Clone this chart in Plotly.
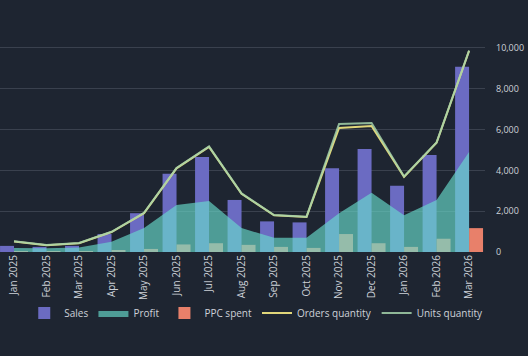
import plotly.graph_objects as go

months = ["Jan 2025", "Feb 2025", "Mar 2025", "Apr 2025", "May 2025", "Jun 2025", "Jul 2025",
          "Aug 2025", "Sep 2025", "Oct 2025", "Nov 2025", "Dec 2025", "Jan 2026", "Feb 2026", "Mar 2026"]
sales = [300, 250, 300, 880, 1900, 3830, 4650, 2550, 1500, 1450, 4100, 5050, 3250, 4750, 9070]
profit = [200, 180, 220, 500, 1170, 2300, 2500, 1170, 700, 700, 1900, 2900, 1800, 2550, 4900]
ppc = [20, 20, 30, 80, 150, 370, 430, 350, 250, 200, 880, 430, 250, 650, 1170]
orders = [520, 330, 430, 980, 1900, 4100, 5150, 2850, 1800, 1720, 6080, 6170, 3680, 5350, 9850]
units = [530, 340, 440, 990, 1920, 4120, 5170, 2870, 1810, 1730, 6270, 6320, 3700, 5370, 9870]
y_ticks = [0, 2000, 4000, 6000, 8000, 10000]

BG = "#1e2531"
TXT = "#cdd1d8"

fig = go.Figure()
fig.add_trace(go.Bar(x=months, y=sales, name="Sales", legendrank=1,
                     marker=dict(color="#6b6bc2", line=dict(width=0))))
fig.add_trace(go.Bar(x=months, y=ppc, name="PPC spent", legendrank=3,
                     marker=dict(color="#e8806a", line=dict(width=0))))
fig.add_trace(go.Scatter(x=months, y=profit, name="Profit", mode="lines", fill="tozeroy",
                         line=dict(color="rgba(105,220,205,0.0)", width=0),
                         fillcolor="rgba(105,220,205,0.65)", legendrank=2))
fig.add_trace(go.Scatter(x=months, y=orders, name="Orders quantity", mode="lines", legendrank=4,
                         line=dict(color="#e0d67a", width=2)))
fig.add_trace(go.Scatter(x=months, y=units, name="Units quantity", mode="lines", legendrank=5,
                         line=dict(color="rgba(165,210,170,0.85)", width=2)))

fig.update_layout(
    width=528, height=356,
    paper_bgcolor=BG, plot_bgcolor=BG,
    margin=dict(l=0, r=43, t=5, b=104),
    barmode="group", bargap=0.14, bargroupgap=0,
    font=dict(family="Open Sans", color=TXT, size=10),
    showlegend=True,
    legend=dict(orientation="h", x=0.05, xanchor="left", y=-0.247, yanchor="middle",
                font=dict(size=10, color=TXT), bgcolor="rgba(0,0,0,0)",
                itemwidth=30, tracegroupgap=0),
    xaxis=dict(type="category", range=[-0.431, 14.49], tickangle=-90, showgrid=False,
               zeroline=False, showline=False, ticks="", automargin=False,
               tickfont=dict(size=10, color=TXT)),
    yaxis=dict(side="right", range=[0, 12100], tickvals=y_ticks, tickformat=",",
               gridcolor="#3a414e", gridwidth=1, zeroline=False, showline=False,
               ticks="", automargin=False, ticklabelstandoff=10,
               tickfont=dict(size=9, color=TXT)),
)

fig.write_html("out.html", config={"displayModeBar": False},
               post_script="document.body.style.margin='0';document.body.style.background='%s';" % BG)
